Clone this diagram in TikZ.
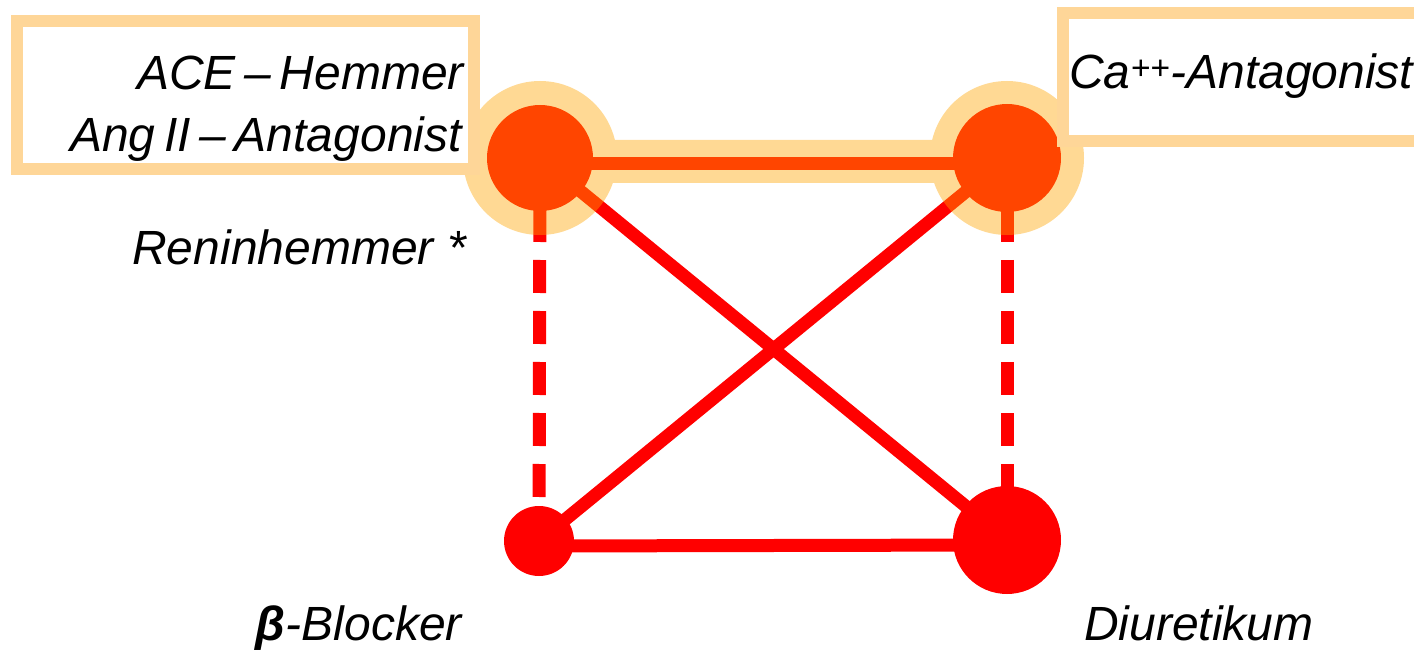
\documentclass[tikz,border=0pt]{standalone}
\usepackage{fontspec}
\setmainfont{Liberation Sans}
\usetikzlibrary{backgrounds}
\definecolor{linkred}{RGB}{255,0,0}
\definecolor{glow}{RGB}{255,165,0}
\definecolor{boxline}{RGB}{254,214,152}
\newcommand{\tightspaces}{\spaceskip=0.18em\relax}
\tikzset{
	drug/.style={circle,fill=linkred,inner sep=0pt},
	drugname/.style={inner sep=0pt,font=\fontsize{48}{56}\selectfont\itshape},
	link/.style={draw=linkred,line width=13pt},
	weaklink/.style={link,dash pattern=on 33pt off 18pt},
	classbox/.style={draw=boxline,fill=white,line width=12pt}
}
\begin{document}
\begin{tikzpicture}[x=1pt,y=-1pt]
	\useasboundingbox (0,0) rectangle (1414,652);
	\clip (0,0) rectangle (1414,652);
	% drug classes
	\node[drug,minimum size=106pt] (ace) at (540,158) {};
	\node[drug,minimum size=108pt] (ca) at (1007,158) {};
	\node[drug,minimum size=70pt] (beta) at (539,541) {};
	\node[drug,minimum size=108pt] (diu) at (1007,540) {};
	% combinations
	\begin{pgfonlayer}{background}
		\draw[weaklink] (ace.center) -- (beta.center);
		\draw[weaklink] (ca.center) -- (diu.center);
		\draw[link] (ace.center) -- (diu.center);
		\draw[link] (ca.center) -- (beta.center);
		\draw[link] ([yshift=-6pt]ace.center) -- ([yshift=-6pt]ca.center);
		\draw[link] ([yshift=-5pt]beta.center) -- ([yshift=-5pt]diu.center);
	\end{pgfonlayer}
	% preferred combination
	\begin{scope}[transparency group,opacity=0.42]
		\fill[glow] (ace.center) circle (77pt) (ca.center) circle (77pt);
		\fill[glow] (ace.center |- 0,140) rectangle (ca.center |- 0,183);
	\end{scope}
	\draw[classbox] (17,21) rectangle (474,169);
	\draw[classbox] (1063,13) rectangle (1440,141);
	% labels
	\node[drugname,anchor=base east] (acetext) at (464,90) {\tightspaces ACE – Hemmer};
	\node[drugname,anchor=base east] (angtext) at (462,152) {\tightspaces Ang II – Antagonist};
	\node[drugname,anchor=base east] (renintext) at (466,265) {Reninhemmer *};
	\node[drugname,anchor=base west] (catext) at (1069,89) {Ca\textsuperscript{++}-Antagonist};
	\node[drugname,anchor=base east] (betatext) at (462,640) {{\bfseries β}-Blocker};
	\node[drugname,anchor=base west] (diutext) at (1084,640) {Diuretikum};
\end{tikzpicture}
\end{document}
